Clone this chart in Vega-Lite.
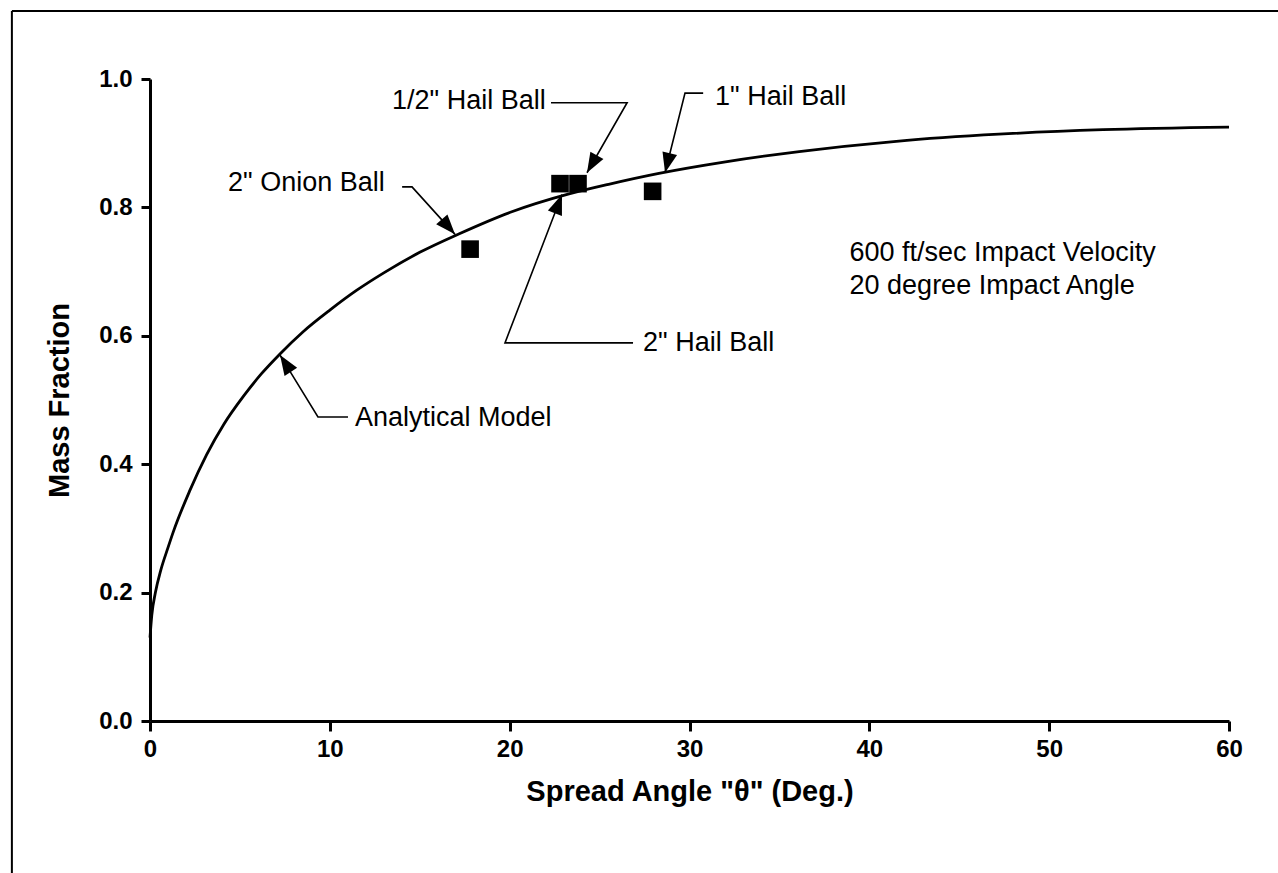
{
  "$schema": "https://vega.github.io/schema/vega-lite/v6.json",
  "width": 1079,
  "height": 642,
  "autosize": {"type": "none"},
  "padding": {"left": 150, "top": 79, "right": 49, "bottom": 152},
  "background": "white",
  "config": {"view": {"stroke": null}, "font": "Liberation Sans"},
  "datasets": {
    "curve": [
      {"x": 0, "y": 0.13}, {"x": 0.1, "y": 0.165}, {"x": 0.3, "y": 0.2}, {"x": 0.6, "y": 0.235},
      {"x": 1.0, "y": 0.27}, {"x": 1.3, "y": 0.295}, {"x": 2.2, "y": 0.358}, {"x": 3.15, "y": 0.415},
      {"x": 4.1, "y": 0.462}, {"x": 5.2, "y": 0.506}, {"x": 6.2, "y": 0.541}, {"x": 7.2, "y": 0.571},
      {"x": 8.5, "y": 0.606}, {"x": 10.0, "y": 0.64}, {"x": 11.5, "y": 0.671}, {"x": 13.0, "y": 0.698},
      {"x": 15.0, "y": 0.73}, {"x": 17.2, "y": 0.759}, {"x": 20.0, "y": 0.792}, {"x": 23.3, "y": 0.821},
      {"x": 25.5, "y": 0.836}, {"x": 28.3, "y": 0.853}, {"x": 32.0, "y": 0.871}, {"x": 36.1, "y": 0.887},
      {"x": 41.5, "y": 0.903}, {"x": 47.2, "y": 0.914}, {"x": 53.0, "y": 0.921}, {"x": 60.0, "y": 0.925}
    ],
    "balls": [
      {"x": 17.8, "y": 0.735}, {"x": 22.8, "y": 0.837}, {"x": 23.8, "y": 0.837}, {"x": 27.95, "y": 0.825}
    ],
    "leaders": [
      {"label": "onion", "seq": 1, "x": 14.02, "y": 0.832}, {"label": "onion", "seq": 2, "x": 14.57, "y": 0.832}, {"label": "onion", "seq": 3, "x": 16.96, "y": 0.758},
      {"label": "half", "seq": 1, "x": 22.3, "y": 0.963}, {"label": "half", "seq": 2, "x": 26.53, "y": 0.963}, {"label": "half", "seq": 3, "x": 24.3, "y": 0.854},
      {"label": "one", "seq": 1, "x": 30.76, "y": 0.978}, {"label": "one", "seq": 2, "x": 29.75, "y": 0.978}, {"label": "one", "seq": 3, "x": 28.64, "y": 0.854},
      {"label": "two", "seq": 1, "x": 26.86, "y": 0.589}, {"label": "two", "seq": 2, "x": 19.74, "y": 0.589}, {"label": "two", "seq": 3, "x": 22.91, "y": 0.82},
      {"label": "model", "seq": 1, "x": 11.01, "y": 0.4735}, {"label": "model", "seq": 2, "x": 9.34, "y": 0.4735}, {"label": "model", "seq": 3, "x": 7.23, "y": 0.57}
    ],
    "tips": [
      {"label": "onion", "x": 16.96, "y": 0.758},
      {"label": "half", "x": 24.3, "y": 0.854},
      {"label": "one", "x": 28.64, "y": 0.854},
      {"label": "two", "x": 22.91, "y": 0.82},
      {"label": "model", "x": 7.23, "y": 0.57}
    ],
    "labels": [
      {"text": "2\" Onion Ball", "x": 4.34, "y": 0.838},
      {"text": "1/2\" Hail Ball", "x": 13.46, "y": 0.966},
      {"text": "1\" Hail Ball", "x": 31.42, "y": 0.972},
      {"text": "2\" Hail Ball", "x": 27.42, "y": 0.589},
      {"text": "Analytical Model", "x": 11.4, "y": 0.472},
      {"text": "600 ft/sec Impact Velocity", "x": 38.9, "y": 0.729},
      {"text": "20 degree Impact Angle", "x": 38.9, "y": 0.678}
    ],
    "frame": [
      {"x": -7.68, "y": 1.106, "x2": 62.8, "y2": 1.106},
      {"x": -7.68, "y": 1.106, "x2": -7.68, "y2": -0.25}
    ]
  },
  "encoding": {
    "x": {
      "field": "x", "type": "quantitative",
      "scale": {"domain": [0, 60], "nice": false, "zero": false},
      "axis": {
        "values": [0, 10, 20, 30, 40, 50, 60], "title": "Spread Angle \"θ\" (Deg.)", "grid": false,
        "domainWidth": 3, "tickWidth": 3, "tickSize": 10, "domainColor": "black", "tickColor": "black",
        "labelFontSize": 24, "labelFontWeight": "bold", "labelColor": "black", "labelPadding": 6, "labelFlush": false,
        "titleFontSize": 29, "titleFontWeight": "bold", "titleColor": "black", "titlePadding": 16
      }
    },
    "y": {
      "field": "y", "type": "quantitative",
      "scale": {"domain": [0, 1], "nice": false, "zero": false},
      "axis": {
        "values": [0, 0.2, 0.4, 0.6, 0.8, 1.0], "format": ".1f", "title": "Mass Fraction", "grid": false,
        "domainWidth": 3, "tickWidth": 3, "tickSize": 9, "domainColor": "black", "tickColor": "black",
        "labelFontSize": 24, "labelFontWeight": "bold", "labelColor": "black", "labelPadding": 9, "labelFlush": false,
        "titleFontSize": 29, "titleFontWeight": "bold", "titleColor": "black", "titlePadding": 24
      }
    }
  },
  "layer": [
    {"data": {"name": "curve"}, "mark": {"type": "line", "color": "black", "strokeWidth": 2.8, "interpolate": "monotone"}},
    {"data": {"name": "balls"}, "mark": {"type": "point", "shape": "square", "filled": true, "color": "black", "opacity": 1, "size": 310}},
    {"data": {"name": "leaders"}, "mark": {"type": "line", "color": "black", "strokeWidth": 1.6},
     "encoding": {"detail": {"field": "label"}, "order": {"field": "seq", "type": "quantitative"}}},
    {"data": {"name": "tips"}, "transform": [{"filter": "datum.label == 'onion'"}],
     "mark": {"type": "point", "shape": "M0,0L-0.75,2L0.75,2Z", "filled": true, "color": "black", "opacity": 1, "size": 400, "angle": 138.7}},
    {"data": {"name": "tips"}, "transform": [{"filter": "datum.label == 'half'"}],
     "mark": {"type": "point", "shape": "M0,0L-0.75,2L0.75,2Z", "filled": true, "color": "black", "opacity": 1, "size": 400, "angle": 209.7}},
    {"data": {"name": "tips"}, "transform": [{"filter": "datum.label == 'one'"}],
     "mark": {"type": "point", "shape": "M0,0L-0.75,2L0.75,2Z", "filled": true, "color": "black", "opacity": 1, "size": 400, "angle": 193.7}},
    {"data": {"name": "tips"}, "transform": [{"filter": "datum.label == 'two'"}],
     "mark": {"type": "point", "shape": "M0,0L-0.75,2L0.75,2Z", "filled": true, "color": "black", "opacity": 1, "size": 400, "angle": 20.8}},
    {"data": {"name": "tips"}, "transform": [{"filter": "datum.label == 'model'"}],
     "mark": {"type": "point", "shape": "M0,0L-0.75,2L0.75,2Z", "filled": true, "color": "black", "opacity": 1, "size": 400, "angle": 327.2}},
    {"data": {"name": "labels"}, "mark": {"type": "text", "align": "left", "baseline": "middle", "fontSize": 27, "color": "black"},
     "encoding": {"text": {"field": "text"}}},
    {"data": {"name": "frame"}, "mark": {"type": "rule", "color": "black", "strokeWidth": 2},
     "encoding": {"x2": {"field": "x2"}, "y2": {"field": "y2"}}}
  ]
}
